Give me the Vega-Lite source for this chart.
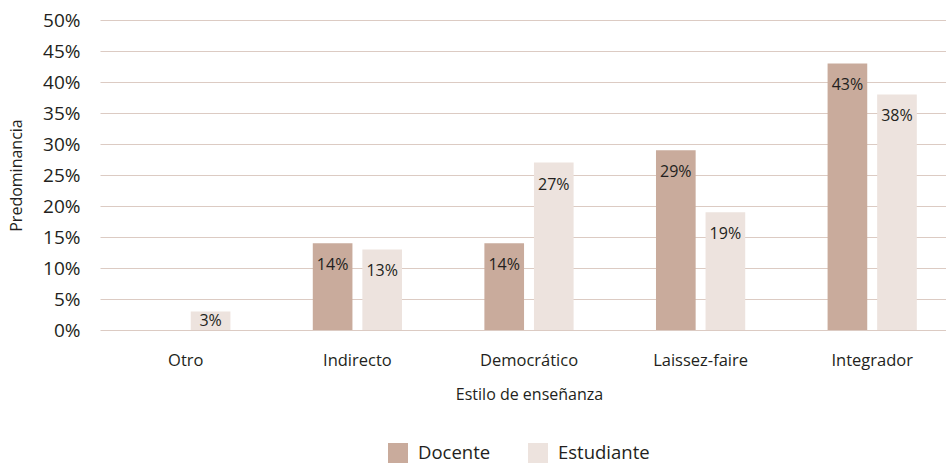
{
  "$schema": "https://vega.github.io/schema/vega-lite/v6.json",
  "width": 858,
  "height": 310,
  "autosize": {"type": "none"},
  "padding": {"left": 100, "top": 20, "right": 0, "bottom": 135},
  "background": "white",
  "config": {
    "font": "Open Sans",
    "view": {"stroke": null},
    "axis": {"labelColor": "#231f20", "titleColor": "#231f20", "labelFont": "Open Sans", "titleFont": "Open Sans", "titleFontWeight": "normal"}
  },
  "data": {
    "values": [
      {"estilo": "Otro", "grupo": "Docente", "valor": 0},
      {"estilo": "Otro", "grupo": "Estudiante", "valor": 3},
      {"estilo": "Indirecto", "grupo": "Docente", "valor": 14},
      {"estilo": "Indirecto", "grupo": "Estudiante", "valor": 13},
      {"estilo": "Democrático", "grupo": "Docente", "valor": 14},
      {"estilo": "Democrático", "grupo": "Estudiante", "valor": 27},
      {"estilo": "Laissez-faire", "grupo": "Docente", "valor": 29},
      {"estilo": "Laissez-faire", "grupo": "Estudiante", "valor": 19},
      {"estilo": "Integrador", "grupo": "Docente", "valor": 43},
      {"estilo": "Integrador", "grupo": "Estudiante", "valor": 38}
    ]
  },
  "encoding": {
    "x": {
      "field": "estilo", "type": "nominal", "sort": null,
      "scale": {"paddingInner": 0.48, "paddingOuter": 0.24},
      "axis": {"title": "Estilo de enseñanza", "labelAngle": 0, "ticks": false, "domain": false, "labelFontSize": 16.5, "labelPadding": 22, "titleFontSize": 16, "titlePadding": 18}
    },
    "xOffset": {"field": "grupo", "type": "nominal", "scale": {"paddingInner": 0.2, "paddingOuter": 0}}
  },
  "layer": [
    {
      "mark": {"type": "bar"},
      "encoding": {
        "y": {
          "field": "valor", "type": "quantitative",
          "scale": {"domain": [0, 50], "nice": false},
          "axis": {"title": "Predominancia", "labelExpr": "datum.value + '%'", "tickCount": 11, "values": [0,5,10,15,20,25,30,35,40,45,50], "labelOverlap": false, "ticks": false, "domain": false, "gridColor": "#dccbc3", "gridWidth": 1.2, "labelFontSize": 19, "labelPadding": 20, "titleFontSize": 16, "titlePadding": 18}
        },
        "color": {
          "field": "grupo", "type": "nominal",
          "scale": {"domain": ["Docente", "Estudiante"], "range": ["#c9ab9c", "#ede3de"]},
          "legend": {"title": null, "orient": "none", "direction": "horizontal", "legendX": 288, "legendY": 423, "symbolType": "square", "symbolSize": 400, "symbolStrokeWidth": 0, "labelFontSize": 18.5, "labelColor": "#231f20", "labelFont": "Open Sans", "labelOffset": 10, "columnPadding": 37}
        }
      }
    },
    {
      "transform": [
        {"filter": "datum.valor > 0"},
        {"calculate": "max(datum.valor - 3.55, datum.valor / 2)", "as": "pos"},
        {"calculate": "datum.valor + '%'", "as": "etiqueta"}
      ],
      "mark": {"type": "text", "baseline": "middle", "fontSize": 16, "color": "#231f20"},
      "encoding": {
        "y": {"field": "pos", "type": "quantitative"},
        "text": {"field": "etiqueta", "type": "nominal"}
      }
    }
  ]
}
